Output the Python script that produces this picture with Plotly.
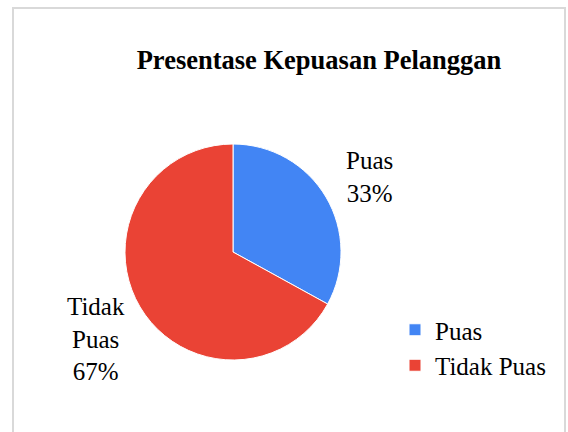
import math
import plotly.graph_objects as go

# Data
labels = ["Puas", "Tidak Puas"]
values = [33, 67]
label_text = ["Puas<br>33%", "Tidak<br>Puas<br>67%"]
colors = ["#4285F4", "#EA4335"]

W, H = 568, 432
FONT = "Liberation Serif, Times New Roman, serif"

# pie geometry (pixels)
cx, cy, R = 233, 252, 108

fig = go.Figure(go.Pie(
    labels=labels,
    values=values,
    sort=False,
    direction="clockwise",
    rotation=0,
    textinfo="none",
    hoverinfo="label+percent",
    marker=dict(colors=colors, line=dict(color="white", width=1)),
    domain=dict(x=[(cx - R) / W, (cx + R) / W],
                y=[(H - cy - R) / H, (H - cy + R) / H]),
))

# outside data labels, placed at the middle angle of each slice
total = sum(values)
start = 0.0
for v, txt in zip(values, label_text):
    mid = (start + v / 2) / total * 2 * math.pi
    start += v
    r = R * 1.47
    px = cx + r * math.sin(mid)
    py = cy - r * math.cos(mid) + 6
    fig.add_annotation(
        x=px / W, y=1 - py / H, xref="paper", yref="paper",
        text=txt, showarrow=False, xanchor="center", yanchor="middle",
        font=dict(family=FONT, size=25, color="#000000"),
    )

# chart border
fig.add_shape(type="rect", xref="paper", yref="paper",
              x0=13 / W, x1=565 / W, y0=-0.1, y1=1 - 8 / H,
              line=dict(color="#D9D9D9", width=2), fillcolor="rgba(0,0,0,0)")

fig.update_layout(
    width=W, height=H,
    margin=dict(l=0, r=0, t=0, b=0),
    paper_bgcolor="white",
    plot_bgcolor="white",
    title=dict(text="<b>Presentase Kepuasan Pelanggan</b>",
               x=319 / W, y=1 - 60 / H, xanchor="center", yanchor="middle",
               font=dict(family=FONT, size=26.5, color="#000000")),
    legend=dict(x=395 / W, y=1 - 307 / H, xanchor="left", yanchor="top",
                font=dict(family=FONT, size=25, color="#000000"),
                itemwidth=30),
    showlegend=True,
)

fig.write_html("out.html", config={"displayModeBar": False},
               post_script="document.body.style.margin='0px';")
